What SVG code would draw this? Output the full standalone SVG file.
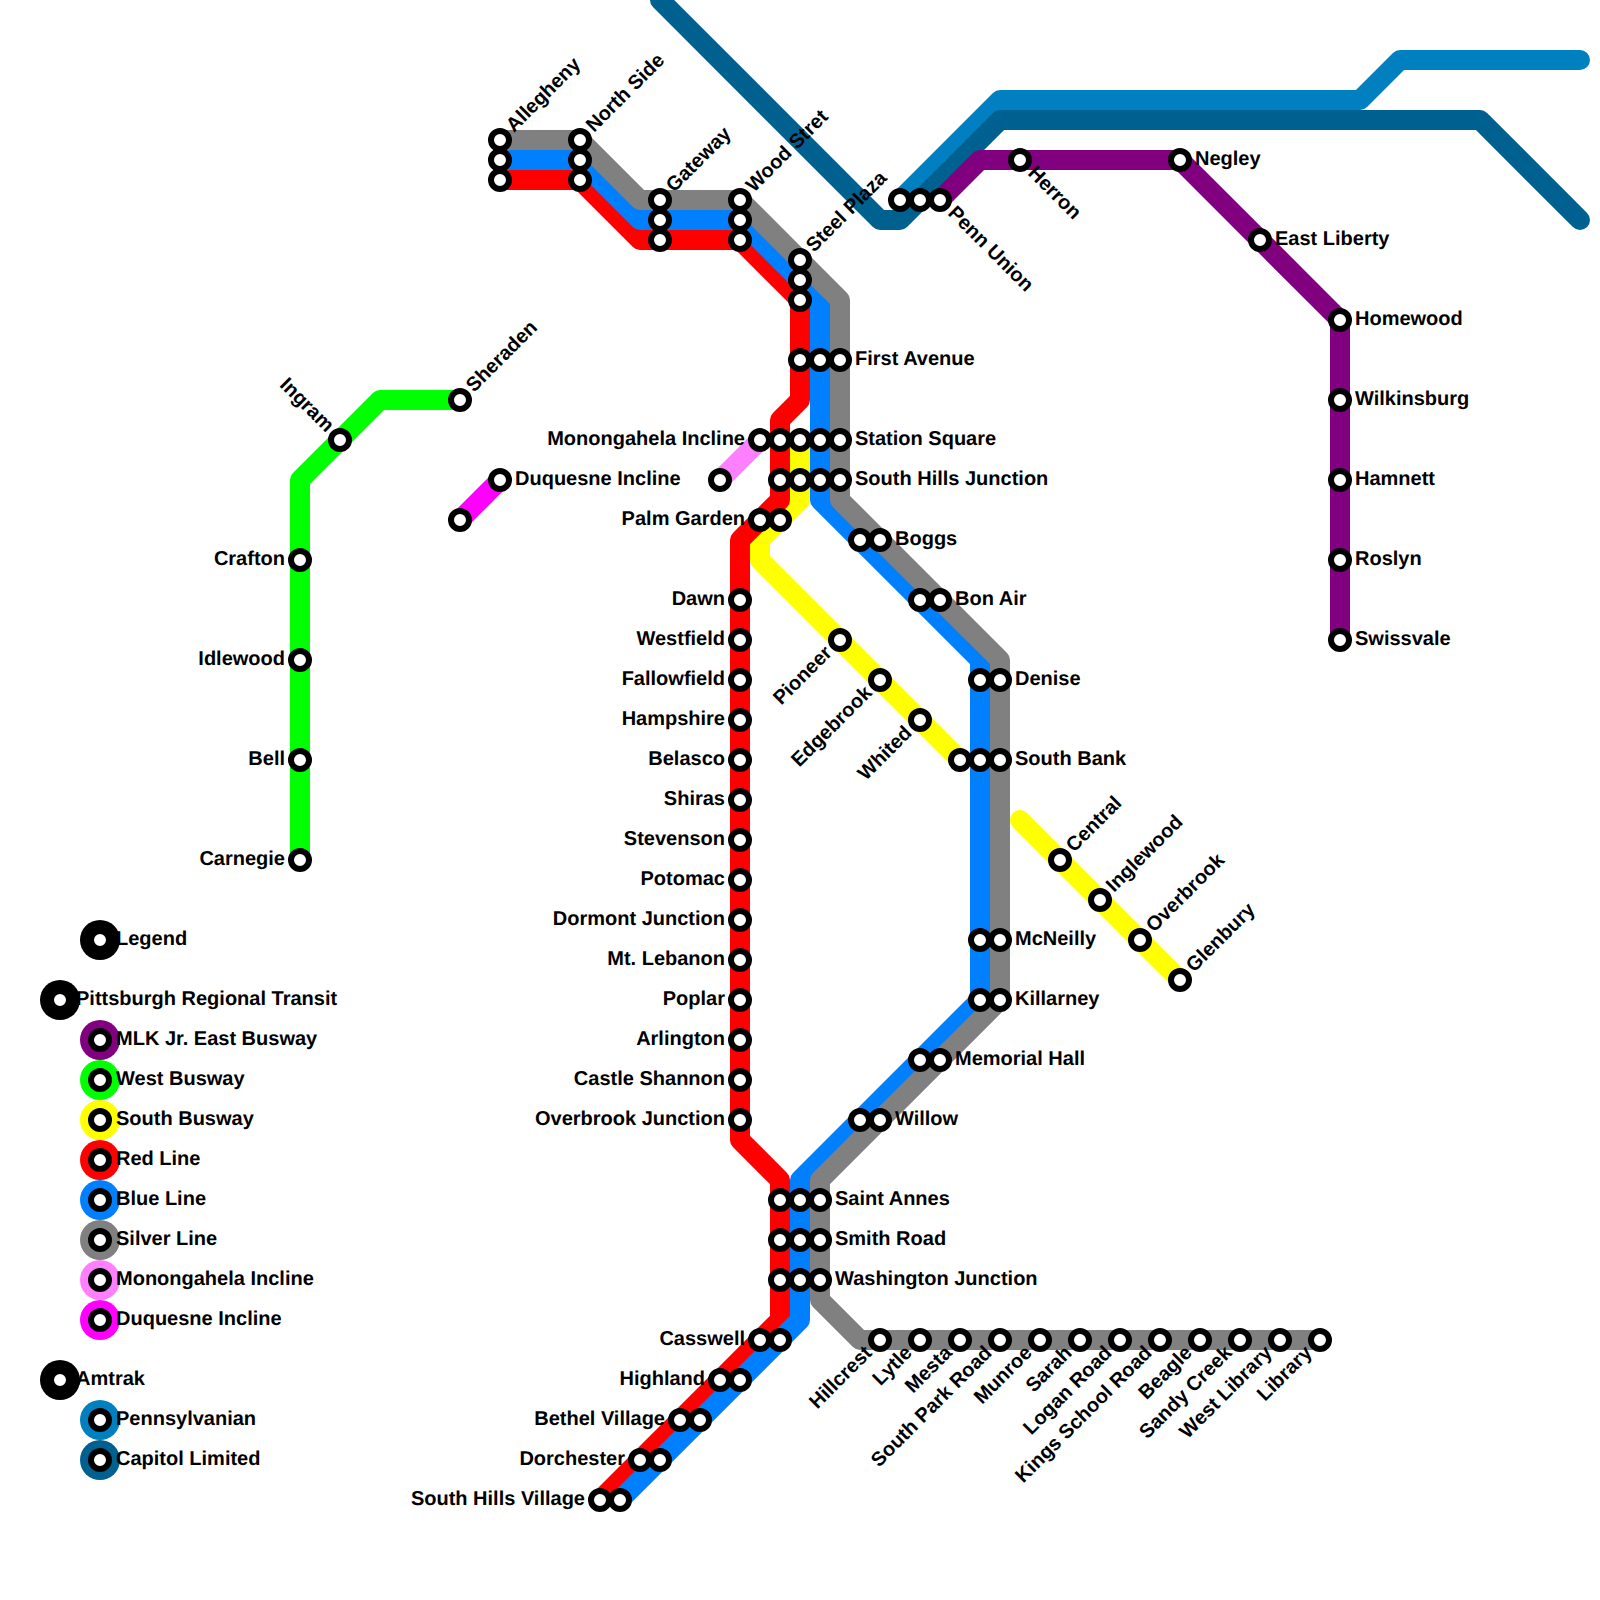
<svg xmlns="http://www.w3.org/2000/svg" width="1600" height="1600" viewBox="0 0 1600 1600">
<style>
.l{fill:none;stroke-width:20;stroke-linecap:round;stroke-linejoin:round}
.s{fill:#fff;stroke:#000;stroke-width:6}
text{font-family:"Liberation Sans",Arial,sans-serif;font-weight:700;font-size:20px;fill:#000;text-rendering:geometricPrecision}
.e{text-anchor:end}
</style>
<rect width="1600" height="1600" fill="#fff"/>
<g id="connectors">
<path class="l" stroke="#0080c0" d="M900 200L1000 100H1360L1400 60H1580"/>
<path class="l" stroke="#006090" d="M660 0L880 220H900L1000 120H1480L1580 220"/>
<path class="l" stroke="#800080" d="M940 200L980 160H1180L1340 320V640"/>
<path class="l" stroke="#00ff00" d="M300 860V480L380 400H460"/>
<path class="l" stroke="#ffff00" d="M800 440V500L760 540V560L960 760"/>
<path class="l" stroke="#ffff00" d="M1020 820L1180 980"/>
<path class="l" stroke="#ff0000" d="M500 180H580L640 240H740L800 300V400L780 420V500L740 540V1140L780 1180V1320L600 1500"/>
<path class="l" stroke="#0080ff" d="M500 160H580L640 220H740L820 300V500L980 660V1000L800 1180V1320L620 1500"/>
<path class="l" stroke="#808080" d="M500 140H580L640 200H740L840 300V500L1000 660V1000L820 1180V1300L860 1340H1320"/>
<path class="l" stroke="#ff80ff" d="M720 480L760 440"/>
<path class="l" stroke="#ff00ff" d="M460 520L500 480"/>
</g>
<g id="allegheny"><circle class="s" cx="500" cy="140" r="9"/><circle class="s" cx="500" cy="160" r="9"/><circle class="s" cx="500" cy="180" r="9"/><text transform="translate(514,133) rotate(-45)">Allegheny</text></g>
<g id="north-side"><circle class="s" cx="580" cy="140" r="9"/><circle class="s" cx="580" cy="160" r="9"/><circle class="s" cx="580" cy="180" r="9"/><text transform="translate(594,133) rotate(-45)">North Side</text></g>
<g id="gateway"><circle class="s" cx="660" cy="200" r="9"/><circle class="s" cx="660" cy="220" r="9"/><circle class="s" cx="660" cy="240" r="9"/><text transform="translate(674,193) rotate(-45)">Gateway</text></g>
<g id="wood-street"><circle class="s" cx="740" cy="200" r="9"/><circle class="s" cx="740" cy="220" r="9"/><circle class="s" cx="740" cy="240" r="9"/><text transform="translate(754,193) rotate(-45)">Wood Stret</text></g>
<g id="steel-plaza"><circle class="s" cx="800" cy="260" r="9"/><circle class="s" cx="800" cy="280" r="9"/><circle class="s" cx="800" cy="300" r="9"/><text transform="translate(814,253) rotate(-45)">Steel Plaza</text></g>
<g id="first-avenue"><circle class="s" cx="800" cy="360" r="9"/><circle class="s" cx="820" cy="360" r="9"/><circle class="s" cx="840" cy="360" r="9"/><text x="855" y="365">First Avenue</text></g>
<g id="station-square"><circle class="s" cx="780" cy="440" r="9"/><circle class="s" cx="800" cy="440" r="9"/><circle class="s" cx="820" cy="440" r="9"/><circle class="s" cx="840" cy="440" r="9"/><text x="855" y="445">Station Square</text></g>
<g id="south-hills-junction"><circle class="s" cx="780" cy="480" r="9"/><circle class="s" cx="800" cy="480" r="9"/><circle class="s" cx="820" cy="480" r="9"/><circle class="s" cx="840" cy="480" r="9"/><text x="855" y="485">South Hills Junction</text></g>
<g id="monongahela-incline"><circle class="s" cx="720" cy="480" r="9"/><circle class="s" cx="760" cy="440" r="9"/><text class="e" x="745" y="445">Monongahela Incline</text></g>
<g id="duquesne-incline"><circle class="s" cx="460" cy="520" r="9"/><circle class="s" cx="500" cy="480" r="9"/><text x="515" y="485">Duquesne Incline</text></g>
<g id="palm-garden"><circle class="s" cx="760" cy="520" r="9"/><circle class="s" cx="780" cy="520" r="9"/><text class="e" x="745" y="525">Palm Garden</text></g>
<g id="boggs"><circle class="s" cx="860" cy="540" r="9"/><circle class="s" cx="880" cy="540" r="9"/><text x="895" y="545">Boggs</text></g>
<g id="bon-air"><circle class="s" cx="920" cy="600" r="9"/><circle class="s" cx="940" cy="600" r="9"/><text x="955" y="605">Bon Air</text></g>
<g id="denise"><circle class="s" cx="980" cy="680" r="9"/><circle class="s" cx="1000" cy="680" r="9"/><text x="1015" y="685">Denise</text></g>
<g id="south-bank"><circle class="s" cx="960" cy="760" r="9"/><circle class="s" cx="980" cy="760" r="9"/><circle class="s" cx="1000" cy="760" r="9"/><text x="1015" y="765">South Bank</text></g>
<g id="mcneilly"><circle class="s" cx="980" cy="940" r="9"/><circle class="s" cx="1000" cy="940" r="9"/><text x="1015" y="945">McNeilly</text></g>
<g id="killarney"><circle class="s" cx="980" cy="1000" r="9"/><circle class="s" cx="1000" cy="1000" r="9"/><text x="1015" y="1005">Killarney</text></g>
<g id="memorial-hall"><circle class="s" cx="920" cy="1060" r="9"/><circle class="s" cx="940" cy="1060" r="9"/><text x="955" y="1065">Memorial Hall</text></g>
<g id="willow"><circle class="s" cx="860" cy="1120" r="9"/><circle class="s" cx="880" cy="1120" r="9"/><text x="895" y="1125">Willow</text></g>
<g id="saint-annes"><circle class="s" cx="780" cy="1200" r="9"/><circle class="s" cx="800" cy="1200" r="9"/><circle class="s" cx="820" cy="1200" r="9"/><text x="835" y="1205">Saint Annes</text></g>
<g id="smith-road"><circle class="s" cx="780" cy="1240" r="9"/><circle class="s" cx="800" cy="1240" r="9"/><circle class="s" cx="820" cy="1240" r="9"/><text x="835" y="1245">Smith Road</text></g>
<g id="washington-junction"><circle class="s" cx="780" cy="1280" r="9"/><circle class="s" cx="800" cy="1280" r="9"/><circle class="s" cx="820" cy="1280" r="9"/><text x="835" y="1285">Washington Junction</text></g>
<g id="casswell"><circle class="s" cx="760" cy="1340" r="9"/><circle class="s" cx="780" cy="1340" r="9"/><text class="e" x="745" y="1345">Casswell</text></g>
<g id="highland"><circle class="s" cx="720" cy="1380" r="9"/><circle class="s" cx="740" cy="1380" r="9"/><text class="e" x="705" y="1385">Highland</text></g>
<g id="bethel-village"><circle class="s" cx="680" cy="1420" r="9"/><circle class="s" cx="700" cy="1420" r="9"/><text class="e" x="665" y="1425">Bethel Village</text></g>
<g id="dorchester"><circle class="s" cx="640" cy="1460" r="9"/><circle class="s" cx="660" cy="1460" r="9"/><text class="e" x="625" y="1465">Dorchester</text></g>
<g id="south-hills-village"><circle class="s" cx="600" cy="1500" r="9"/><circle class="s" cx="620" cy="1500" r="9"/><text class="e" x="585" y="1505">South Hills Village</text></g>
<g id="dawn"><circle class="s" cx="740" cy="600" r="9"/><text class="e" x="725" y="605">Dawn</text></g>
<g id="westfield"><circle class="s" cx="740" cy="640" r="9"/><text class="e" x="725" y="645">Westfield</text></g>
<g id="fallowfield"><circle class="s" cx="740" cy="680" r="9"/><text class="e" x="725" y="685">Fallowfield</text></g>
<g id="hampshire"><circle class="s" cx="740" cy="720" r="9"/><text class="e" x="725" y="725">Hampshire</text></g>
<g id="belasco"><circle class="s" cx="740" cy="760" r="9"/><text class="e" x="725" y="765">Belasco</text></g>
<g id="shiras"><circle class="s" cx="740" cy="800" r="9"/><text class="e" x="725" y="805">Shiras</text></g>
<g id="stevenson"><circle class="s" cx="740" cy="840" r="9"/><text class="e" x="725" y="845">Stevenson</text></g>
<g id="potomac"><circle class="s" cx="740" cy="880" r="9"/><text class="e" x="725" y="885">Potomac</text></g>
<g id="dormont-junction"><circle class="s" cx="740" cy="920" r="9"/><text class="e" x="725" y="925">Dormont Junction</text></g>
<g id="mt-lebanon"><circle class="s" cx="740" cy="960" r="9"/><text class="e" x="725" y="965">Mt. Lebanon</text></g>
<g id="poplar"><circle class="s" cx="740" cy="1000" r="9"/><text class="e" x="725" y="1005">Poplar</text></g>
<g id="arlington"><circle class="s" cx="740" cy="1040" r="9"/><text class="e" x="725" y="1045">Arlington</text></g>
<g id="castle-shannon"><circle class="s" cx="740" cy="1080" r="9"/><text class="e" x="725" y="1085">Castle Shannon</text></g>
<g id="overbrook-junction"><circle class="s" cx="740" cy="1120" r="9"/><text class="e" x="725" y="1125">Overbrook Junction</text></g>
<g id="crafton"><circle class="s" cx="300" cy="560" r="9"/><text class="e" x="285" y="565">Crafton</text></g>
<g id="idlewood"><circle class="s" cx="300" cy="660" r="9"/><text class="e" x="285" y="665">Idlewood</text></g>
<g id="bell"><circle class="s" cx="300" cy="760" r="9"/><text class="e" x="285" y="765">Bell</text></g>
<g id="carnegie"><circle class="s" cx="300" cy="860" r="9"/><text class="e" x="285" y="865">Carnegie</text></g>
<g id="ingram"><circle class="s" cx="340" cy="440" r="9"/><text class="e" transform="translate(326,433) rotate(45)">Ingram</text></g>
<g id="sheraden"><circle class="s" cx="460" cy="400" r="9"/><text transform="translate(474,393) rotate(-45)">Sheraden</text></g>
<g id="pioneer"><circle class="s" cx="840" cy="640" r="9"/><text class="e" transform="translate(833,654) rotate(-45)">Pioneer</text></g>
<g id="edgebrook"><circle class="s" cx="880" cy="680" r="9"/><text class="e" transform="translate(873,694) rotate(-45)">Edgebrook</text></g>
<g id="whited"><circle class="s" cx="920" cy="720" r="9"/><text class="e" transform="translate(913,734) rotate(-45)">Whited</text></g>
<g id="central"><circle class="s" cx="1060" cy="860" r="9"/><text transform="translate(1074,853) rotate(-45)">Central</text></g>
<g id="inglewood"><circle class="s" cx="1100" cy="900" r="9"/><text transform="translate(1114,893) rotate(-45)">Inglewood</text></g>
<g id="overbrook"><circle class="s" cx="1140" cy="940" r="9"/><text transform="translate(1154,933) rotate(-45)">Overbrook</text></g>
<g id="glenbury"><circle class="s" cx="1180" cy="980" r="9"/><text transform="translate(1194,973) rotate(-45)">Glenbury</text></g>
<g id="penn-union"><circle class="s" cx="900" cy="200" r="9"/><circle class="s" cx="920" cy="200" r="9"/><circle class="s" cx="940" cy="200" r="9"/><text transform="translate(947,214) rotate(45)">Penn Union</text></g>
<g id="herron"><circle class="s" cx="1020" cy="160" r="9"/><text transform="translate(1027,174) rotate(45)">Herron</text></g>
<g id="negley"><circle class="s" cx="1180" cy="160" r="9"/><text x="1195" y="165">Negley</text></g>
<g id="east-liberty"><circle class="s" cx="1260" cy="240" r="9"/><text x="1275" y="245">East Liberty</text></g>
<g id="homewood"><circle class="s" cx="1340" cy="320" r="9"/><text x="1355" y="325">Homewood</text></g>
<g id="wilkinsburg"><circle class="s" cx="1340" cy="400" r="9"/><text x="1355" y="405">Wilkinsburg</text></g>
<g id="hamnett"><circle class="s" cx="1340" cy="480" r="9"/><text x="1355" y="485">Hamnett</text></g>
<g id="roslyn"><circle class="s" cx="1340" cy="560" r="9"/><text x="1355" y="565">Roslyn</text></g>
<g id="swissvale"><circle class="s" cx="1340" cy="640" r="9"/><text x="1355" y="645">Swissvale</text></g>
<g id="hillcrest"><circle class="s" cx="880" cy="1340" r="9"/><text class="e" transform="translate(873,1354) rotate(-45)">Hillcrest</text></g>
<g id="lytle"><circle class="s" cx="920" cy="1340" r="9"/><text class="e" transform="translate(913,1354) rotate(-45)">Lytle</text></g>
<g id="mesta"><circle class="s" cx="960" cy="1340" r="9"/><text class="e" transform="translate(953,1354) rotate(-45)">Mesta</text></g>
<g id="south-park-road"><circle class="s" cx="1000" cy="1340" r="9"/><text class="e" transform="translate(993,1354) rotate(-45)">South Park Road</text></g>
<g id="munroe"><circle class="s" cx="1040" cy="1340" r="9"/><text class="e" transform="translate(1033,1354) rotate(-45)">Munroe</text></g>
<g id="sarah"><circle class="s" cx="1080" cy="1340" r="9"/><text class="e" transform="translate(1073,1354) rotate(-45)">Sarah</text></g>
<g id="logan-road"><circle class="s" cx="1120" cy="1340" r="9"/><text class="e" transform="translate(1113,1354) rotate(-45)">Logan Road</text></g>
<g id="kings-school-road"><circle class="s" cx="1160" cy="1340" r="9"/><text class="e" transform="translate(1153,1354) rotate(-45)">Kings School Road</text></g>
<g id="beagle"><circle class="s" cx="1200" cy="1340" r="9"/><text class="e" transform="translate(1193,1354) rotate(-45)">Beagle</text></g>
<g id="sandy-creek"><circle class="s" cx="1240" cy="1340" r="9"/><text class="e" transform="translate(1233,1354) rotate(-45)">Sandy Creek</text></g>
<g id="west-library"><circle class="s" cx="1280" cy="1340" r="9"/><text class="e" transform="translate(1273,1354) rotate(-45)">West Library</text></g>
<g id="library"><circle class="s" cx="1320" cy="1340" r="9"/><text class="e" transform="translate(1313,1354) rotate(-45)">Library</text></g>
<g id="legend">
<g id="legend-title"><circle cx="100" cy="940" r="20" fill="#000"/><circle class="s" cx="100" cy="940" r="9"/><text x="116" y="945">Legend</text></g>
<g id="legend-prt"><circle cx="60" cy="1000" r="20" fill="#000"/><circle class="s" cx="60" cy="1000" r="9"/><text x="76" y="1005">Pittsburgh Regional Transit</text></g>
<g id="legend-mlk"><circle cx="100" cy="1040" r="20" fill="#800080"/><circle class="s" cx="100" cy="1040" r="9"/><text x="116" y="1045">MLK Jr. East Busway</text></g>
<g id="legend-west"><circle cx="100" cy="1080" r="20" fill="#00ff00"/><circle class="s" cx="100" cy="1080" r="9"/><text x="116" y="1085">West Busway</text></g>
<g id="legend-south"><circle cx="100" cy="1120" r="20" fill="#ffff00"/><circle class="s" cx="100" cy="1120" r="9"/><text x="116" y="1125">South Busway</text></g>
<g id="legend-red"><circle cx="100" cy="1160" r="20" fill="#ff0000"/><circle class="s" cx="100" cy="1160" r="9"/><text x="116" y="1165">Red Line</text></g>
<g id="legend-blue"><circle cx="100" cy="1200" r="20" fill="#0080ff"/><circle class="s" cx="100" cy="1200" r="9"/><text x="116" y="1205">Blue Line</text></g>
<g id="legend-silver"><circle cx="100" cy="1240" r="20" fill="#808080"/><circle class="s" cx="100" cy="1240" r="9"/><text x="116" y="1245">Silver Line</text></g>
<g id="legend-mon"><circle cx="100" cy="1280" r="20" fill="#ff80ff"/><circle class="s" cx="100" cy="1280" r="9"/><text x="116" y="1285">Monongahela Incline</text></g>
<g id="legend-duq"><circle cx="100" cy="1320" r="20" fill="#ff00ff"/><circle class="s" cx="100" cy="1320" r="9"/><text x="116" y="1325">Duquesne Incline</text></g>
<g id="legend-amtrak"><circle cx="60" cy="1380" r="20" fill="#000"/><circle class="s" cx="60" cy="1380" r="9"/><text x="76" y="1385">Amtrak</text></g>
<g id="legend-penn"><circle cx="100" cy="1420" r="20" fill="#0080c0"/><circle class="s" cx="100" cy="1420" r="9"/><text x="116" y="1425">Pennsylvanian</text></g>
<g id="legend-capitol"><circle cx="100" cy="1460" r="20" fill="#006090"/><circle class="s" cx="100" cy="1460" r="9"/><text x="116" y="1465">Capitol Limited</text></g>
</g>
</svg>
